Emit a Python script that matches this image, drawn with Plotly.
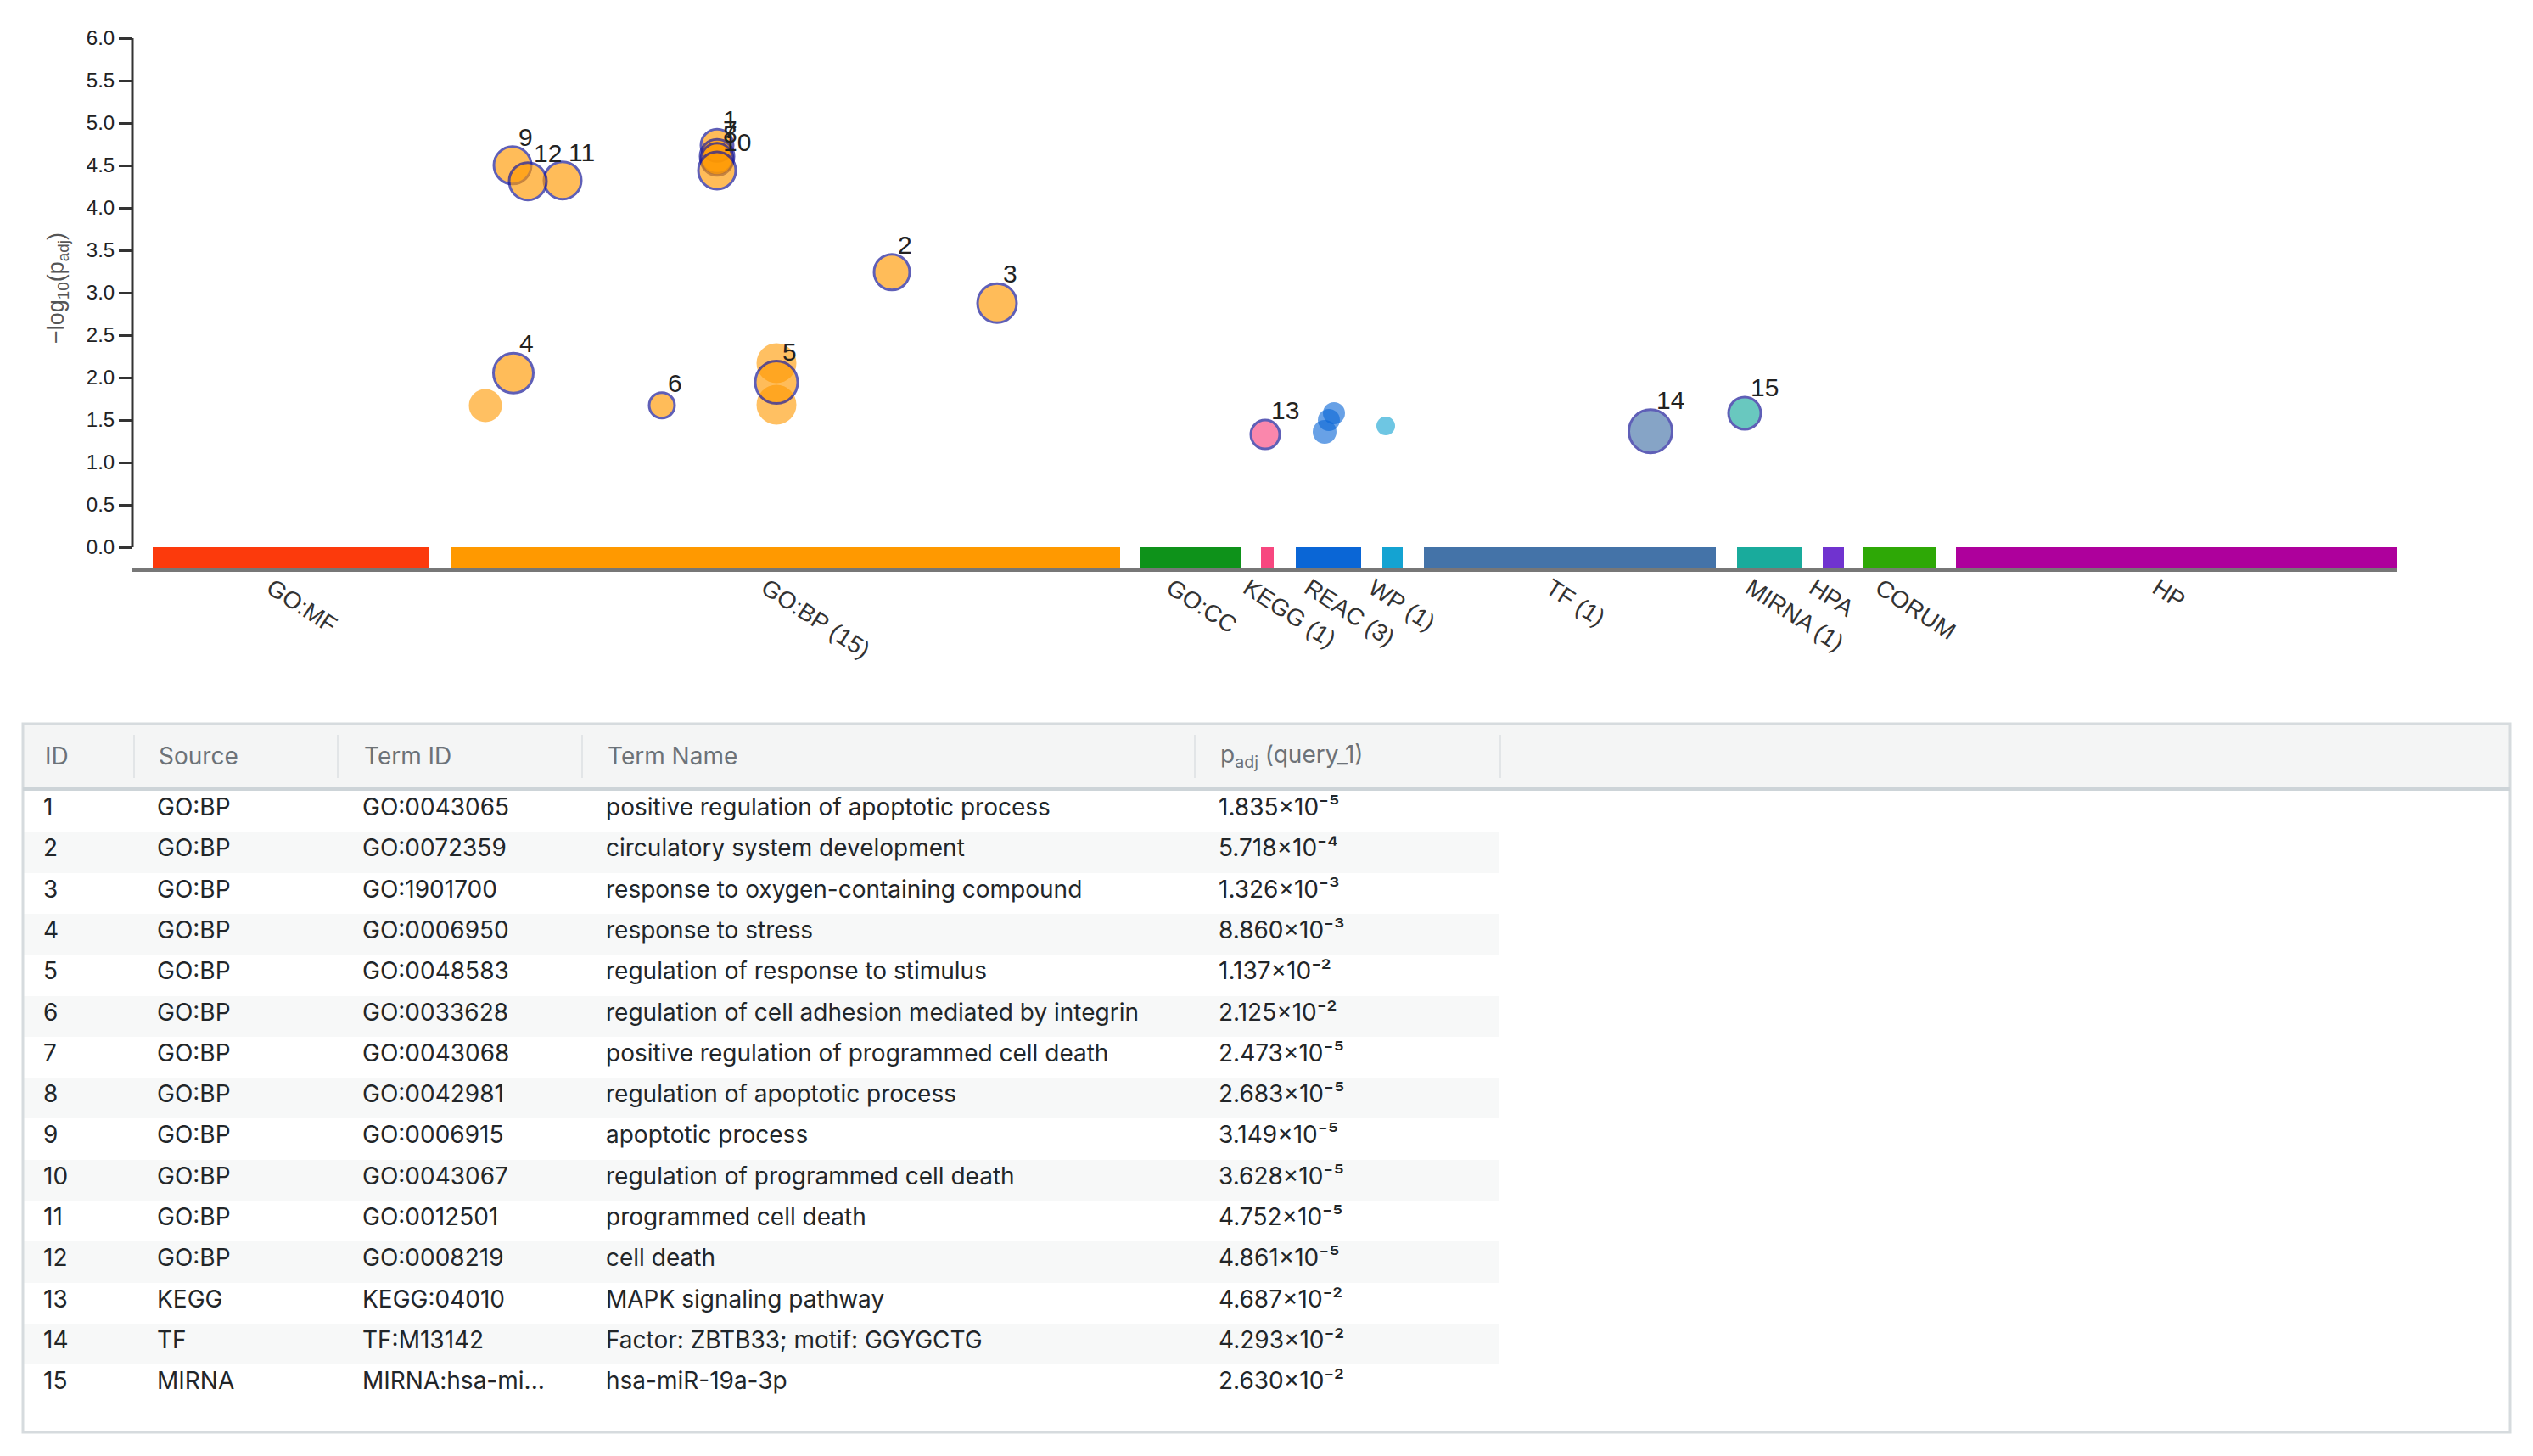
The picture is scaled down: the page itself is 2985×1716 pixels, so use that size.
import numpy as np
import plotly.graph_objects as go

# page is 2985x1716; the html body keeps an 8px margin, so the figure is shrunk and shifted
OFF = 8
W, H = 2985 - 2 * OFF, 1716 - 2 * OFF

def px(xp):
    return (xp - OFF) / W

def py(yp):
    return 1 - (yp - OFF) / H

# ---------------- data: sources (x blocks along the Manhattan axis) ----------------
source_names = ["GO:MF", "GO:BP", "GO:CC", "KEGG", "REAC", "WP", "TF", "MIRNA", "HPA", "CORUM", "HP"]
source_labels = ["GO:MF", "GO:BP (15)", "GO:CC", "KEGG (1)", "REAC (3)", "WP (1)", "TF (1)",
                 "MIRNA (1)", "HPA", "CORUM", "HP"]
source_start = [24, 375, 1188, 1330, 1371, 1473, 1522, 1891, 1992, 2040, 2149]
source_end = [349, 1164, 1306, 1345, 1448, 1497, 1866, 1968, 2017, 2125, 2669]
source_colors = ["#fc3a0c", "#ff9900", "#0e921a", "#f7477f", "#0a66d6", "#14a3d2", "#4473a8",
                 "#19ab9c", "#7033cf", "#2ea806", "#ae009c"]

# ---------------- data: highlighted (numbered) terms ----------------
term_num = list(range(1, 16))
term_source = ["GO:BP"] * 12 + ["KEGG", "TF", "MIRNA"]
term_ids = ["GO:0043065", "GO:0072359", "GO:1901700", "GO:0006950", "GO:0048583", "GO:0033628",
            "GO:0043068", "GO:0042981", "GO:0006915", "GO:0043067", "GO:0012501", "GO:0008219",
            "KEGG:04010", "TF:M13142", "MIRNA:hsa-mi..."]
term_names = ["positive regulation of apoptotic process", "circulatory system development",
              "response to oxygen-containing compound", "response to stress",
              "regulation of response to stimulus", "regulation of cell adhesion mediated by integrin",
              "positive regulation of programmed cell death", "regulation of apoptotic process",
              "apoptotic process", "regulation of programmed cell death", "programmed cell death",
              "cell death", "MAPK signaling pathway", "Factor: ZBTB33; motif: GGYGCTG", "hsa-miR-19a-3p"]
p_adj = [1.835e-5, 5.718e-4, 1.326e-3, 8.860e-3, 1.137e-2, 2.125e-2, 2.473e-5, 2.683e-5,
         3.149e-5, 3.628e-5, 4.752e-5, 4.861e-5, 4.687e-2, 4.293e-2, 2.630e-2]
term_x = [689, 895, 1019, 449, 759, 624, 689, 689, 448, 689, 507, 466, 1335, 1789, 1900]
term_size = [38, 42, 46, 47, 50, 30, 40, 38, 44, 44, 44, 44, 34, 51, 38]

# ---------------- data: other (non-highlighted) significant terms ----------------
bg_source = ["GO:BP", "GO:BP", "GO:BP", "REAC", "REAC", "REAC", "WP"]
bg_x = [416, 759, 759, 1416, 1410, 1405, 1477]
bg_y = [1.67, 2.17, 1.68, 1.58, 1.50, 1.36, 1.43]
bg_size = [39, 47, 47, 26, 26, 28, 22]

y_ticks = [0.0, 0.5, 1.0, 1.5, 2.0, 2.5, 3.0, 3.5, 4.0, 4.5, 5.0, 5.5, 6.0]

table_headers = ["ID", "Source", "Term ID", "Term Name", "p<sub>adj</sub> (query_1)"]

# ---------------- layout geometry (page pixels) ----------------
x0_px, x1_px = 156, 2825
ytop_px, ybot_px = 44.6, 670
y_min, y_max = -0.25, 6.0

color_of = dict(zip(source_names, source_colors))
term_y = [-np.log10(p) for p in p_adj]

def rgba(hexc, a):
    h = hexc.lstrip("#")
    return "rgba(%d,%d,%d,%.2f)" % (int(h[0:2], 16), int(h[2:4], 16), int(h[4:6], 16), a)

fig = go.Figure()

# source blocks
centers = [(s + e) / 2 for s, e in zip(source_start, source_end)]
widths = [e - s for s, e in zip(source_start, source_end)]
fig.add_trace(go.Bar(x=centers, y=[0 - y_min] * len(centers), base=y_min, width=widths,
                     marker=dict(color=source_colors, line=dict(width=0)),
                     hoverinfo="skip", showlegend=False))

# background terms
fig.add_trace(go.Scatter(x=bg_x, y=bg_y, mode="markers",
                         marker=dict(size=bg_size, color=[rgba(color_of[s], 0.88) for s in bg_source],
                                     line=dict(width=0)),
                         hoverinfo="skip", showlegend=False))

# highlighted terms
fig.add_trace(go.Scatter(x=term_x, y=term_y, mode="markers",
                         marker=dict(size=term_size, color=[rgba(color_of[s], 0.92) for s in term_source],
                                     line=dict(width=3, color="#1c1c9a")),
                         hoverinfo="skip", showlegend=False))

annotations = []
for n, x, y, s in zip(term_num, term_x, term_y, term_size):
    annotations.append(dict(x=x, y=y, xref="x", yref="y", text=str(n), showarrow=False,
                            xanchor="left", yanchor="bottom", xshift=5, yshift=s / 2 - 7,
                            font=dict(family="Liberation Sans", size=30, color="#222222")))

# y-axis title
annotations.append(dict(x=px(68), y=py(340), xref="paper", yref="paper",
                        text="\u2212log<sub>10</sub>(p<sub>adj</sub>)", textangle=-90, showarrow=False,
                        xanchor="center", yanchor="middle",
                        font=dict(family="Liberation Sans", size=27, color="#555555")))

# ---------------- table ----------------
SUP = str.maketrans("-0123456789", "\u207b\u2070\u00b9\u00b2\u00b3\u2074\u2075\u2076\u2077\u2078\u2079")

def fmt_p(p):
    e = int(np.floor(np.log10(p)))
    m = p / 10 ** e
    return "%.3f\u00d710%s" % (m, str(e).translate(SUP))

n_rows = len(term_num)
col_pad = [""] * n_rows
col_empty = [""] * n_rows
cells_values = [col_pad, [str(n) for n in term_num], term_source, term_ids, term_names,
                [fmt_p(p) for p in p_adj], col_empty]
stripe = ["#ffffff" if i % 2 == 0 else "#f7f8f8" for i in range(n_rows)]
fill_cols = [stripe] * 6 + [["#ffffff"] * n_rows]

tbl_left, tbl_right, tbl_top, tbl_bottom = 27, 2958, 853, 1688
header_h = 79
col_widths = [16, 134, 242, 287, 722, 338, 1192]
header_text_x = [51, 185, 427, 714, 1436]
sep_x = [158, 398, 686, 1408, 1768]

fig.add_trace(go.Table(
    domain=dict(x=[px(tbl_left), px(tbl_right)], y=[py(tbl_bottom), py(tbl_top)]),
    columnwidth=col_widths,
    header=dict(values=[""] * 7, height=header_h, align="left",
                fill_color="#f4f5f5", line=dict(color="#f4f5f5", width=0),
                font=dict(family="Inter", size=28, color="#6c7278")),
    cells=dict(values=cells_values, height=48.3, align="left",
               fill_color=fill_cols, line=dict(color="rgba(0,0,0,0)", width=0),
               font=dict(family="Inter", size=28, color="#222629")),
))

for hx, ht in zip(header_text_x, table_headers):
    annotations.append(dict(x=px(hx), y=py(891), xref="paper", yref="paper", text=ht,
                            showarrow=False, xanchor="left", yanchor="middle",
                            font=dict(family="Inter", size=28, color="#6c7278")))

shapes = []
# y axis line from 0 to 6
shapes.append(dict(type="line", xref="paper", yref="y", x0=px(x0_px), x1=px(x0_px), y0=0, y1=6,
                   line=dict(color="#333333", width=3)))
# table frame
shapes.append(dict(type="rect", xref="paper", yref="paper", x0=px(tbl_left), x1=px(tbl_right),
                   y0=py(tbl_bottom), y1=py(tbl_top), line=dict(color="#d6dbde", width=3),
                   layer="above"))
shapes.append(dict(type="line", xref="paper", yref="paper", x0=px(tbl_left), x1=px(tbl_right),
                   y0=py(930), y1=py(930), line=dict(color="#cdd4d8", width=4), layer="above"))
# header column separators
for sx in sep_x:
    shapes.append(dict(type="line", xref="paper", yref="paper", x0=px(sx), x1=px(sx),
                       y0=py(917), y1=py(866), line=dict(color="#e2e5e7", width=2), layer="above"))

fig.update_layout(
    width=W, height=H, margin=dict(l=0, r=0, t=0, b=0),
    paper_bgcolor="white", plot_bgcolor="white",
    bargap=0, showlegend=False,
    xaxis=dict(domain=[px(x0_px), px(x1_px)], range=[0, x1_px - x0_px], automargin=False,
               tickmode="array", tickvals=centers, ticktext=source_labels, tickangle=33,
               ticks="", showgrid=False, zeroline=False, showline=True, linecolor="#777777",
               linewidth=4, ticklabelshift=-23, ticklabelstandoff=-8,
               tickfont=dict(family="Liberation Sans", size=28, color="#333333")),
    yaxis=dict(domain=[py(ybot_px), py(ytop_px)], range=[y_min, y_max + 0.004], automargin=False,
               tickmode="array", tickvals=y_ticks, ticktext=["%.1f" % v for v in y_ticks],
               ticks="outside", ticklen=15, tickwidth=3, tickcolor="#333333",
               showgrid=False, zeroline=False, showline=False,
               tickfont=dict(family="Liberation Sans", size=24, color="#222222")),
    annotations=annotations, shapes=shapes,
)

fig.write_html("out.html")
